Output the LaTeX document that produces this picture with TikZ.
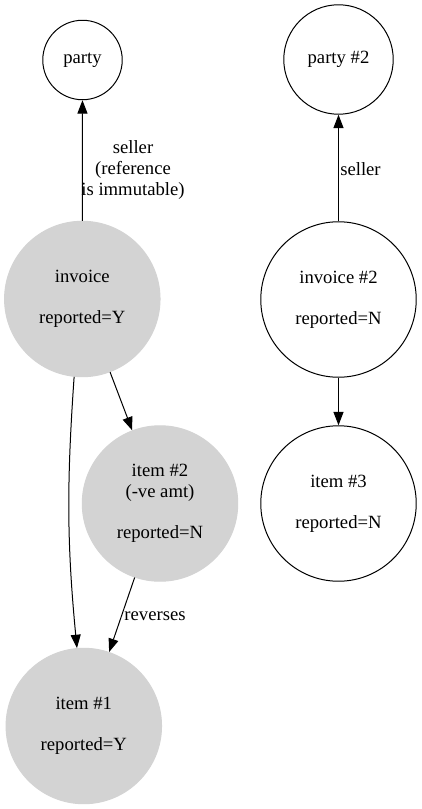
\documentclass[tikz,border=0pt]{standalone}
\usepackage{fontspec}
\setmainfont{Liberation Serif}
\usetikzlibrary{arrows.meta}
\definecolor{lgray}{HTML}{D3D3D3}
\begin{document}
\begin{tikzpicture}[x=0.75pt,y=-0.75pt,
  every node/.style={font=\fontsize{14}{15.4}\selectfont},
  gnode/.style={circle,draw=black,line width=0.75pt,inner sep=0pt,align=center,minimum size=#1},
  fnode/.style={circle,fill=lgray,draw=lgray,line width=0.75pt,inner sep=0pt,align=center,minimum size=#1},
  edge/.style={-{Triangle[length=10pt,width=7.5pt]},line width=0.75pt},
  lbl/.style={align=center,inner sep=0pt}]
\useasboundingbox (0,0) rectangle (421,809);

\node[gnode=59.6pt] (party) at (82.5,60) {party};
\node[gnode=82.1pt] (party2) at (338.5,59.5) {party \#2};
\node[fnode=116.6pt] (inv) at (82.3,299) {invoice\\[15.4pt]reported=Y};
\node[gnode=116.6pt] (inv2) at (338.5,299.5) {invoice \#2\\[15.4pt]reported=N};
\node[fnode=116.6pt] (it2) at (160,503.5) {item \#2\\(-ve amt)\\[15.4pt]reported=N};
\node[gnode=116.6pt] (it3) at (338.5,503.5) {item \#3\\[15.4pt]reported=N};
\node[fnode=116.6pt] (it1) at (83.8,726) {item \#1\\[15.4pt]reported=Y};

\draw[edge] (inv) -- (party);
\node[lbl] (l1) at (133,170) {seller\\(reference\\is immutable)};
\draw[edge] (inv2) -- (party2);
\node[lbl,anchor=west] (l2) at (340,169) {seller};
\draw[edge] (inv) -- (it2);
\draw[edge] (inv2) -- (it3);
\draw[edge] (it2) -- (it1);
\node[lbl] (l3) at (155,616) {reverses};
\draw[edge] (inv.-96.5) to[out=-94,in=95.5] (it1.95.8);
\end{tikzpicture}
\end{document}
